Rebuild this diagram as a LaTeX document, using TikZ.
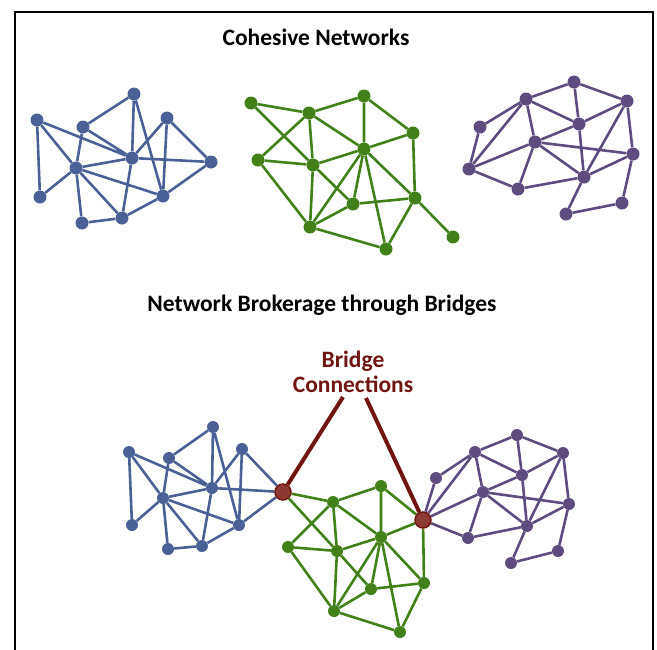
\documentclass[tikz,border=0pt]{standalone}
\usepackage{fontspec}
\setsansfont{Carlito}
\usetikzlibrary{positioning,calc}
\pgfdeclarelayer{bg}
\pgfsetlayers{bg,main}
\definecolor{netblue}{RGB}{74,96,150}
\definecolor{netgreen}{RGB}{66,128,26}
\definecolor{netpurple}{RGB}{94,76,128}
\definecolor{bridgefill}{RGB}{140,58,52}
\definecolor{bridgedark}{RGB}{112,22,18}

\begin{document}
\begin{tikzpicture}[
x = 1pt, y = -1pt,
every node/.style = {
	font = \sffamily
},
heading/.style = {
	font = \bfseries\sffamily\fontsize{23.5}{25}\selectfont
},
vertex/.style = {
	circle,
	inner sep = 0pt,
	minimum size = 13pt
},
bvert/.style = {vertex, fill = netblue},
gvert/.style = {vertex, fill = netgreen},
pvert/.style = {vertex, fill = netpurple},
small/.style = {minimum size = 12pt},
bridge/.style = {
	vertex,
	minimum size = 16pt,
	fill = bridgefill,
	draw = bridgedark,
	line width = 1.5pt
},
bedge/.style = {line width = 2.6pt, netblue},
gedge/.style = {line width = 2.6pt, netgreen},
pedge/.style = {line width = 2.6pt, netpurple},
bridgeline/.style = {line width = 4pt, bridgedark}
]

\useasboundingbox (0,0) rectangle (657,649);
\draw[line width = 2pt] (15,660) -- (15,12) -- (653,12) -- (653,660);

\node [heading] (cohesive) at (316,37) {Cohesive Networks};
\node [heading] (brokerage) at (322,305) {Network Brokerage through Bridges};
\node [heading, bridgedark, align = center] (label) at (353,372) {Bridge\\Connections};

% cohesive: blue
\node [bvert] (cb1) at (37,120) {};
\node [bvert] (cb2) at (83,127) {};
\node [bvert] (cb3) at (134,94) {};
\node [bvert] (cb4) at (167,118) {};
\node [bvert] (cb5) at (132,158) {};
\node [bvert] (cb6) at (76,168) {};
\node [bvert] (cb7) at (211,162) {};
\node [bvert] (cb8) at (40,197) {};
\node [bvert] (cb9) at (163,196) {};
\node [bvert] (cb10) at (122,218) {};
\node [bvert] (cb11) at (82,223) {};

% cohesive: green
\node [gvert] (cg1) at (251,103) {};
\node [gvert] (cg2) at (309,113) {};
\node [gvert] (cg3) at (364,96) {};
\node [gvert] (cg4) at (413,133) {};
\node [gvert] (cg5) at (364,149) {};
\node [gvert] (cg6) at (258,160) {};
\node [gvert] (cg7) at (313,165) {};
\node [gvert] (cg8) at (353,204) {};
\node [gvert] (cg9) at (415,198) {};
\node [gvert] (cg10) at (310,227) {};
\node [gvert] (cg11) at (386,249) {};
\node [gvert] (cg12) at (453,237) {};

% cohesive: purple
\node [pvert] (cp1) at (574,82) {};
\node [pvert] (cp2) at (526,99) {};
\node [pvert] (cp3) at (627,101) {};
\node [pvert] (cp4) at (480,127) {};
\node [pvert] (cp5) at (579,124) {};
\node [pvert] (cp6) at (535,142) {};
\node [pvert] (cp7) at (633,154) {};
\node [pvert] (cp8) at (469,169) {};
\node [pvert] (cp9) at (584,177) {};
\node [pvert] (cp10) at (518,189) {};
\node [pvert] (cp11) at (622,203) {};
\node [pvert] (cp12) at (566,214) {};

% brokerage
\node [bridge] (brl) at (283,492) {};
\node [bridge] (brr) at (423,520) {};

\node [bvert, small] (nb1) at (129,452) {};
\node [bvert, small] (nb2) at (169,458) {};
\node [bvert, small] (nb3) at (213,427) {};
\node [bvert, small] (nb4) at (242,449) {};
\node [bvert, small] (nb5) at (212,488) {};
\node [bvert, small] (nb6) at (163,498) {};
\node [bvert, small] (nb8) at (132,525) {};
\node [bvert, small] (nb9) at (239,525) {};
\node [bvert, small] (nb10) at (202,546) {};
\node [bvert, small] (nb11) at (168,549) {};

\node [gvert, small] (ng2) at (333,502) {};
\node [gvert, small] (ng3) at (381,486) {};
\node [gvert, small] (ng5) at (381,537) {};
\node [gvert, small] (ng6) at (288,547) {};
\node [gvert, small] (ng7) at (337,551) {};
\node [gvert, small] (ng8) at (371,589) {};
\node [gvert, small] (ng9) at (424,583) {};
\node [gvert, small] (ng10) at (334,611) {};
\node [gvert, small] (ng11) at (400,632) {};

\node [pvert, small] (np1) at (517,435) {};
\node [pvert, small] (np2) at (475,452) {};
\node [pvert, small] (np3) at (563,453) {};
\node [pvert, small] (np4) at (436,478) {};
\node [pvert, small] (np5) at (522,475) {};
\node [pvert, small] (np6) at (483,492) {};
\node [pvert, small] (np7) at (569,504) {};
\node [pvert, small] (np9) at (527,526) {};
\node [pvert, small] (np10) at (468,538) {};
\node [pvert, small] (np11) at (558,551) {};
\node [pvert, small] (np12) at (511,563) {};

\coordinate (lfoot) at (343,397);
\coordinate (rfoot) at (366,398);

\begin{pgfonlayer}{bg}
\draw[bedge] (cb1) -- (cb6) (cb1) -- (cb8) (cb1) -- (cb5) (cb2) -- (cb5)
	(cb2) -- (cb3) (cb2) -- (cb6) (cb3) -- (cb5) (cb3) -- (cb9)
	(cb4) -- (cb5) (cb4) -- (cb9) (cb4) -- (cb7) (cb5) -- (cb7)
	(cb5) -- (cb6) (cb5) -- (cb10) (cb6) -- (cb8) (cb6) -- (cb9)
	(cb6) -- (cb10) (cb6) -- (cb11) (cb7) -- (cb9) (cb9) -- (cb10)
	(cb10) -- (cb11);
\draw[gedge] (cg1) -- (cg2) (cg1) -- (cg7) (cg7) -- (cg8) (cg2) -- (cg3)
	(cg2) -- (cg6) (cg2) -- (cg7) (cg2) -- (cg5) (cg3) -- (cg5)
	(cg3) -- (cg4) (cg4) -- (cg5) (cg4) -- (cg9) (cg5) -- (cg7)
	(cg5) -- (cg8) (cg5) -- (cg9) (cg5) -- (cg10) (cg5) -- (cg11)
	(cg6) -- (cg7) (cg6) -- (cg10) (cg7) -- (cg10) (cg8) -- (cg9)
	(cg8) -- (cg10) (cg9) -- (cg11) (cg9) -- (cg12) (cg10) -- (cg11);
\draw[pedge] (cp1) -- (cp2) (cp1) -- (cp3) (cp1) -- (cp5) (cp2) -- (cp4)
	(cp2) -- (cp5) (cp2) -- (cp6) (cp2) -- (cp8) (cp3) -- (cp5)
	(cp3) -- (cp7) (cp3) -- (cp9) (cp4) -- (cp8) (cp5) -- (cp6)
	(cp5) -- (cp9) (cp6) -- (cp8) (cp6) -- (cp7) (cp6) -- (cp9)
	(cp6) -- (cp10) (cp7) -- (cp9) (cp7) -- (cp11) (cp8) -- (cp10)
	(cp9) -- (cp10) (cp9) -- (cp12) (cp11) -- (cp12);

\draw[bedge] (nb1) -- (nb6) (nb1) -- (nb8) (nb1) -- (nb5) (nb2) -- (nb5)
	(nb2) -- (nb3) (nb2) -- (nb6) (nb3) -- (nb5) (nb3) -- (nb9)
	(nb4) -- (nb5) (nb4) -- (nb9) (nb4) -- (brl) (nb5) -- (brl)
	(nb5) -- (nb6) (nb5) -- (nb10) (nb6) -- (nb8) (nb6) -- (nb9)
	(nb6) -- (nb10) (nb6) -- (nb11) (brl) -- (nb9) (nb9) -- (nb10)
	(nb10) -- (nb11);
\draw[gedge] (brl) -- (ng2) (brl) -- (ng7) (ng7) -- (ng8) (ng2) -- (ng3)
	(ng2) -- (ng6) (ng2) -- (ng7) (ng2) -- (ng5) (ng3) -- (ng5)
	(ng3) -- (brr) (brr) -- (ng5) (brr) -- (ng9) (ng5) -- (ng7)
	(ng5) -- (ng8) (ng5) -- (ng9) (ng5) -- (ng10) (ng5) -- (ng11)
	(ng6) -- (ng7) (ng6) -- (ng10) (ng7) -- (ng10) (ng8) -- (ng9)
	(ng8) -- (ng10) (ng9) -- (ng11) (ng10) -- (ng11);
\draw[pedge] (np1) -- (np2) (np1) -- (np3) (np1) -- (np5) (np2) -- (np4)
	(np2) -- (np5) (np2) -- (np6) (np2) -- (brr) (np3) -- (np5)
	(np3) -- (np7) (np3) -- (np9) (np4) -- (brr) (np5) -- (np6)
	(np5) -- (np9) (np6) -- (brr) (np6) -- (np7) (np6) -- (np9)
	(np6) -- (np10) (np7) -- (np9) (np7) -- (np11) (brr) -- (np10)
	(np9) -- (np10) (np9) -- (np12) (np11) -- (np12);
\end{pgfonlayer}

\draw[bridgeline] (lfoot) -- (brl);
\draw[bridgeline] (rfoot) -- (brr);

\end{tikzpicture}
\end{document}
